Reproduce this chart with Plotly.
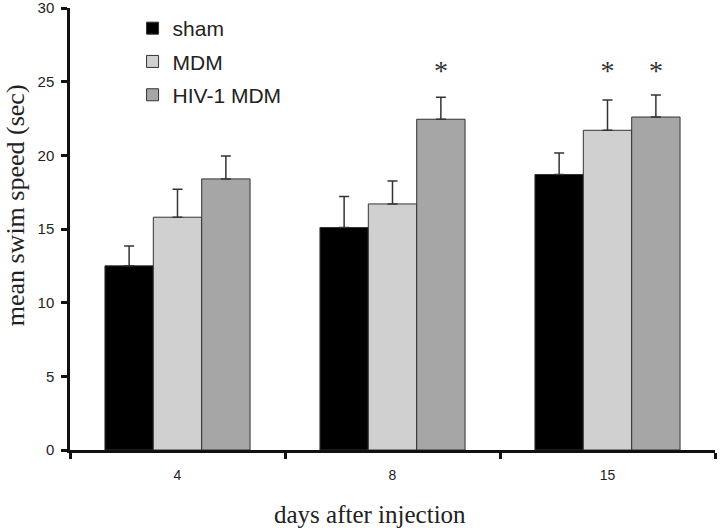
import plotly.graph_objects as go

days = ["4", "8", "15"]
series_names = ["sham", "MDM", "HIV-1 MDM"]
sham_mean = [12.5, 15.1, 18.7]
sham_err = [1.35, 2.1, 1.45]
mdm_mean = [15.8, 16.7, 21.7]
mdm_err = [1.9, 1.55, 2.05]
hiv_mean = [18.4, 22.45, 22.6]
hiv_err = [1.55, 1.5, 1.5]
sham_sig = ["", "", ""]
mdm_sig = ["", "", "*"]
hiv_sig = ["", "*", "*"]
sig_level = 24.5

colors = ["#000000", "#d0d0d0", "#a6a6a6"]
means = [sham_mean, mdm_mean, hiv_mean]
errs = [sham_err, mdm_err, hiv_err]
sigs = [sham_sig, mdm_sig, hiv_sig]

fig = go.Figure()
for name, m, e, c in zip(series_names, means, errs, colors):
    fig.add_trace(go.Bar(
        x=days, y=m, name=name, offsetgroup=name, legendgroup=name,
        marker=dict(color=c, line=dict(color="#333333", width=1)),
        error_y=dict(type="data", symmetric=False, array=e,
                     arrayminus=[0] * len(e), color="#333333",
                     thickness=1.5, width=5),
    ))
for name, s in zip(series_names, sigs):
    fig.add_trace(go.Bar(
        x=days, y=[sig_level if t else 0 for t in s], offsetgroup=name,
        showlegend=False, hoverinfo="skip",
        marker=dict(color="rgba(0,0,0,0)", line=dict(width=0)),
        text=s, textposition="outside", cliponaxis=False,
        textfont=dict(family="Liberation Serif", size=28, color="#333333"),
    ))

fig.update_layout(
    width=720, height=528,
    margin=dict(l=70, r=5, t=8, b=78, autoexpand=False),
    barmode="group", bargap=0.325, bargroupgap=0,
    plot_bgcolor="white", paper_bgcolor="white",
    font=dict(family="Liberation Sans", color="#222222"),
    legend=dict(x=0.097, y=1.0, xanchor="left", yanchor="top",
                font=dict(family="Liberation Sans", size=21, color="#222222"),
                tracegroupgap=3, bgcolor="rgba(0,0,0,0)"),
    annotations=[
        dict(text="days after injection", xref="paper", yref="paper",
             x=0.465, y=-0.147, xanchor="center", yanchor="middle",
             showarrow=False,
             font=dict(family="Liberation Serif", size=25, color="#222222")),
        dict(text="mean swim speed (sec)", xref="paper", yref="paper",
             x=-0.085, y=0.554, xanchor="center", yanchor="middle",
             textangle=-90, showarrow=False,
             font=dict(family="Liberation Serif", size=26, color="#222222")),
    ],
)
fig.update_xaxes(
    type="category", automargin=False, showline=True, linecolor="#111111",
    linewidth=2.5, ticks="outside", tickson="boundaries", ticklen=6,
    tickwidth=2.5, tickcolor="#111111", showgrid=False,
    ticklabelstandoff=10,
    tickfont=dict(family="Liberation Sans", size=14, color="#222222"),
)
fig.update_yaxes(
    range=[0, 30], dtick=5, automargin=False, showline=True,
    linecolor="#111111", linewidth=2.5, ticks="outside", ticklen=6,
    tickwidth=2.5, tickcolor="#111111", showgrid=False, zeroline=False,
    ticklabelstandoff=4, ticklabeloverflow="allow",
    tickfont=dict(family="Liberation Sans", size=15, color="#222222"),
)
fig.write_html("out.html", config={"displayModeBar": False},
               post_script="document.body.style.margin='0';document.body.style.overflow='hidden';")
